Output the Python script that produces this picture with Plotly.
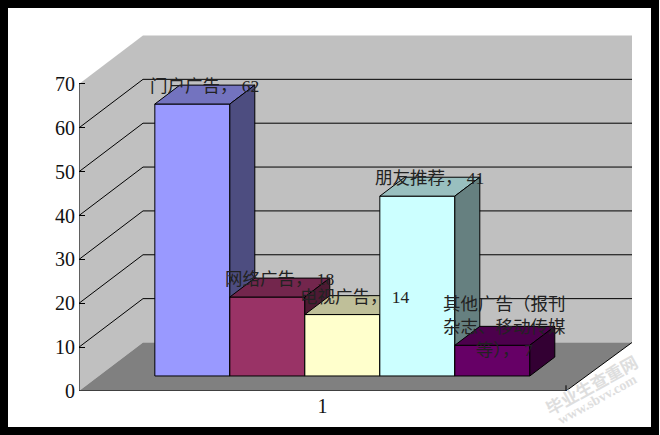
import plotly.graph_objects as go

# ---- data ----
categories = ["门户广告", "网络广告", "电视广告", "朋友推荐", "其他广告（报刊杂志、移动传媒等）"]
values = [62, 18, 14, 41, 7]
label_texts = ["门户广告， 62", "网络广告， 18", "电视广告， 14", "朋友推荐， 41",
               "其他广告（报刊<br>杂志、移动传媒<br>等）， 7"]
front_colors = ["#9999FF", "#993366", "#FFFFCC", "#CCFFFF", "#660066"]
top_colors = ["#7373BF", "#73264D", "#BFBF99", "#99BFBF", "#4C004C"]
side_colors = ["#4D4D80", "#4D1A33", "#808066", "#668080", "#330033"]
y_ticks = [0, 10, 20, 30, 40, 50, 60, 70]
x_tick_labels = ["1"]

# ---- page geometry (pixels) ----
W, H = 660, 435
PLOT_L, PLOT_R, PLOT_T, PLOT_B = 79, 633, 35, 391
AXIS_PX = 487.0          # width of the front x axis
PX_PER_UNIT = 4.386      # pixels per value unit
DEPTH_PX_X, DEPTH_PX_Y = 64.0, 48.5
BAR_PX = 75.0
BAR_D0, BAR_D1 = 0.31, 0.70
RIGHT_EXTRA = 2 / AXIS_PX   # back wall runs slightly past the front axis offset

DX = DEPTH_PX_X / AXIS_PX
DY = DEPTH_PX_Y / PX_PER_UNIT
XMIN = 0.5
XMAX = XMIN + (PLOT_R - PLOT_L) / AXIS_PX
YMAX = (PLOT_B - PLOT_T) / PX_PER_UNIT
XFRONT = XMIN + 1.0
XBACK = XFRONT + RIGHT_EXTRA
BAR_W = BAR_PX / AXIS_PX


def P(x, y, d):
    """Oblique projection of (x, value, depth) into the plot's data space."""
    return x + d * DX, y + d * DY


def poly(points, fill, line=None, xa="x", ya="y"):
    xs, ys = zip(*(points + [points[0]]))
    return go.Scatter(x=xs, y=ys, mode="lines", fill="toself", fillcolor=fill,
                      line=dict(color=line or fill, width=1 if line else 0),
                      hoverinfo="skip", showlegend=False, xaxis=xa, yaxis=ya)


fig = go.Figure()

# walls and floor
fig.add_trace(poly([P(XMIN, 0, 0), P(XMIN, 70, 0), P(XMIN, 70, 1), P(XMIN, 0, 1)], "#C0C0C0"))
fig.add_trace(poly([P(XMIN, 0, 1), P(XMIN, 70, 1), P(XBACK, 70, 1), P(XBACK, 0, 1)], "#C0C0C0"))
fig.add_trace(poly([P(XMIN, 0, 0), P(XMIN, 0, 1), P(XBACK, 0, 1), P(XFRONT, 0, 0)], "#808080"))

# gridlines on the walls
gx, gy = [], []
for t in y_ticks[1:-1]:
    for d_x, d_y in [P(XMIN, t, 0), P(XMIN, t, 1), P(XBACK, t, 1)]:
        gx.append(d_x)
        gy.append(d_y)
    gx.append(None)
    gy.append(None)
fig.add_trace(go.Scatter(x=gx, y=gy, mode="lines", line=dict(color="black", width=1),
                         hoverinfo="skip", showlegend=False))

# axis lines
ax_pts = [P(XMIN, 70, 0), P(XMIN, 0, 0), P(XFRONT, 0, 0), P(XBACK, 0, 1)]
fig.add_trace(go.Scatter(x=[p[0] for p in ax_pts] + [None, XFRONT, XFRONT],
                         y=[p[1] for p in ax_pts] + [None, 0, 1.3],
                         mode="lines", line=dict(color="black", width=1),
                         hoverinfo="skip", showlegend=False))

# bars, each on its own overlay axes so later bars hide earlier ones
layout_axes = {}
n = len(values)
centre = XMIN + 0.5
for i, v in enumerate(values):
    k = i + 2
    xa, ya = f"x{k}", f"y{k}"
    layout_axes[f"xaxis{k}"] = dict(overlaying="x", range=[XMIN, XMAX], visible=False, fixedrange=True)
    layout_axes[f"yaxis{k}"] = dict(overlaying="y", range=[0, YMAX], visible=False, fixedrange=True)
    xc = centre + (i - (n - 1) / 2) * BAR_W
    xl, xr = xc - BAR_W / 2, xc + BAR_W / 2
    cx0, base = P(xc, 0, BAR_D0)
    fig.add_trace(go.Bar(x=[cx0], y=[v], base=[base], width=[BAR_W], name=categories[i],
                         marker=dict(color=front_colors[i], line=dict(color="black", width=1)),
                         showlegend=False, xaxis=xa, yaxis=ya))
    fig.add_trace(poly([P(xl, v, BAR_D0), P(xl, v, BAR_D1), P(xr, v, BAR_D1), P(xr, v, BAR_D0)],
                       top_colors[i], "black", xa, ya))
    fig.add_trace(poly([P(xr, 0, BAR_D0), P(xr, v, BAR_D0), P(xr, v, BAR_D1), P(xr, 0, BAR_D1)],
                       side_colors[i], "black", xa, ya))

# data labels, centred slightly left of the back edge of each bar top
LABEL_SHIFT_X = -12.5 / AXIS_PX
LABEL_SHIFT_Y = -1 / PX_PER_UNIT
annotations = []
for i, (v, txt) in enumerate(zip(values, label_texts)):
    xc = centre + (i - (n - 1) / 2) * BAR_W
    lx, ly = P(xc + LABEL_SHIFT_X, v + LABEL_SHIFT_Y, BAR_D1)
    annotations.append(dict(x=lx, y=ly, xref="x", yref="y", text=txt, showarrow=False,
                            xanchor="center", yanchor="middle", align="center",
                            font=dict(family="Liberation Serif, Noto Sans CJK SC", size=17.5, color="#222222")))

# watermark and frame: paper coordinates are relative to the plot area
pw, ph = PLOT_R - PLOT_L, PLOT_B - PLOT_T
for txt, px, py, size, fam in [("<b>毕业生查重网</b>", 591, 384, 17, "Noto Sans CJK SC"),
                               ("<b>www.sbvv.com</b>", 597, 399, 14, "Liberation Serif")]:
    annotations.append(dict(x=(px - PLOT_L) / pw, y=(PLOT_B - py) / ph, xref="paper", yref="paper",
                            text=txt, showarrow=False, textangle=-29, xanchor="center", yanchor="middle",
                            font=dict(family=fam, size=size, color="#DEDEDE")))

FR = 4
frame = dict(type="rect", xref="paper", yref="paper",
             x0=(FR - PLOT_L) / pw, x1=(655 - PLOT_L) / pw,
             y0=(PLOT_B - 431) / ph, y1=(PLOT_B - FR) / ph,
             line=dict(color="black", width=8), fillcolor="rgba(0,0,0,0)", layer="above")

fig.update_layout(
    width=W, height=H, autosize=False, showlegend=False, barmode="overlay",
    paper_bgcolor="white", plot_bgcolor="white",
    margin=dict(l=PLOT_L, r=W - PLOT_R, t=PLOT_T, b=H - PLOT_B, pad=0),
    font=dict(family="Liberation Serif, Noto Sans CJK SC", color="black"),
    xaxis=dict(range=[XMIN, XMAX], tickmode="array", tickvals=[XMIN + 0.5], ticktext=x_tick_labels,
               showgrid=False, zeroline=False, showline=False, ticks="", fixedrange=True,
               ticklabelstandoff=1, tickfont=dict(size=20, color="#111111")),
    yaxis=dict(range=[0, YMAX], tickmode="array", tickvals=y_ticks, showgrid=False, zeroline=False,
               showline=False, ticks="inside", ticklen=6, tickcolor="black", tickwidth=1, fixedrange=True,
               ticklabelstandoff=3, tickfont=dict(size=20, color="#111111")),
    annotations=annotations,
    shapes=[frame],
    **layout_axes,
)

fig.write_html("out.html", config={"displayModeBar": False},
               post_script="document.body.style.margin='0';document.body.style.overflow='hidden';")
